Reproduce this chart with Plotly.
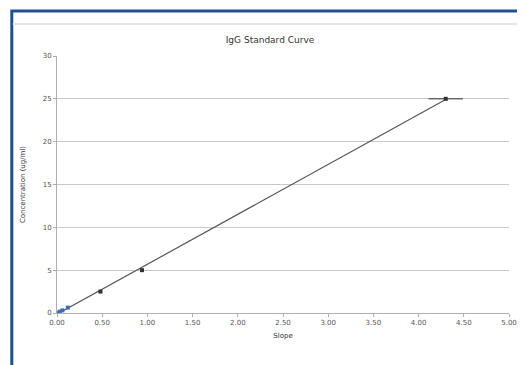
import numpy as np
import plotly.graph_objects as go

# Data
slope = [0.0, 0.03, 0.06, 0.12, 0.48, 0.94, 4.30]
conc = [0.0, 0.16, 0.31, 0.63, 2.5, 5.0, 25.0]
slope_err = [0, 0, 0, 0, 0.02, 0.02, 0.19]
x_ticks = [0.0, 0.5, 1.0, 1.5, 2.0, 2.5, 3.0, 3.5, 4.0, 4.5, 5.0]
y_ticks = [0, 5, 10, 15, 20, 25, 30]

OFF = 8  # page body margin
W, H = 525 - OFF, 365 - OFF
L, T = 57 - OFF, 56 - OFF
R = W - (517 - OFF)
B = H - (313 - OFF)
pw, ph = W - L - R, H - T - B

def px(x):
    return (x - OFF - L) / pw

def py(y):
    return (H - B - (y - OFF)) / ph

coef = np.polyfit(slope, conc, 1)
fit_x = [min(slope), max(slope)]
fit_y = [coef[0] * v + coef[1] for v in fit_x]

fig = go.Figure()
fig.add_trace(go.Scatter(x=fit_x, y=fit_y, mode="lines",
                         line=dict(color="#555555", width=1.2),
                         hoverinfo="skip", showlegend=False))
fig.add_trace(go.Scatter(x=slope[:4], y=conc[:4], mode="markers",
                         marker=dict(color="#3d6fb5", size=4, symbol="square"),
                         showlegend=False))
fig.add_trace(go.Scatter(x=slope[4:], y=conc[4:], mode="markers",
                         marker=dict(color="#333333", size=4, symbol="square"),
                         error_x=dict(type="data", array=slope_err[4:], color="#333333",
                                      thickness=1, width=0),
                         showlegend=False))

fig.update_layout(
    width=W, height=H,
    margin=dict(l=L, r=R, t=T, b=B),
    paper_bgcolor="white", plot_bgcolor="white",
    font=dict(family="DejaVu Sans", size=7, color="#555555"),
    title=dict(text="IgG Standard Curve", x=(270 - OFF) / W, xanchor="center",
               y=1 - (40 - OFF) / H, yanchor="middle",
               font=dict(size=9, color="#333333")),
    xaxis=dict(range=[0, 5], tickvals=x_ticks, ticktext=[f"{v:.2f}" for v in x_ticks],
               showgrid=False, zeroline=False, showline=True, linecolor="#b0b0b0",
               ticks="outside", ticklen=3, tickcolor="#b0b0b0",
               title=dict(text="Slope", font=dict(size=7, color="#333333"), standoff=6)),
    yaxis=dict(range=[0, 30], tickvals=y_ticks, showgrid=True, gridcolor="#c8c8c8",
               zeroline=False, showline=True, linecolor="#b0b0b0",
               ticks="outside", ticklen=3, tickcolor="#b0b0b0",
               title=dict(text="Concentration (ug/ml)", font=dict(size=7, color="#333333"),
                          standoff=16)),
    shapes=[
        dict(type="rect", xref="paper", yref="paper",
             x0=px(11), x1=px(540), y0=py(11), y1=py(380),
             line=dict(color="#1f4f8f", width=3), layer="above"),
        dict(type="line", xref="paper", yref="paper",
             x0=px(12), x1=px(530), y0=py(24), y1=py(24),
             line=dict(color="#e2e6ea", width=2)),
    ],
)

fig.write_html("out.html")
